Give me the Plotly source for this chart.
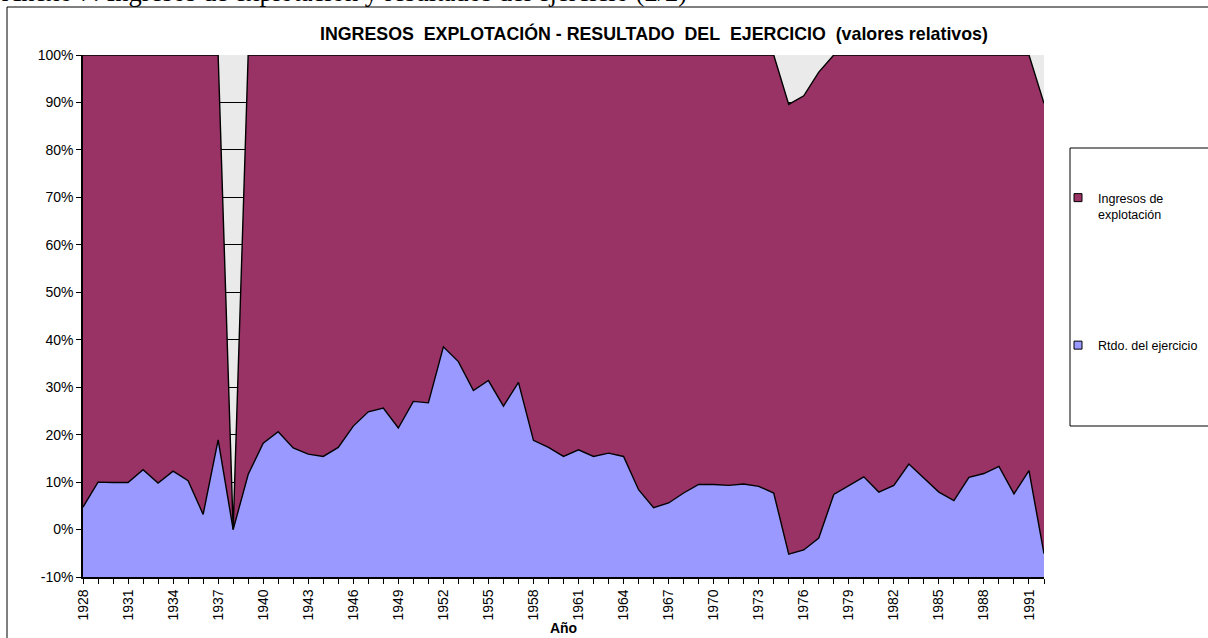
import plotly.graph_objects as go

years = list(range(1928, 1993))
rtdo = [4.7, 10.0, 9.9, 9.9, 12.6, 9.8, 12.3, 10.3, 3.2, 18.9,
        0.0, 11.6, 18.2, 20.6, 17.2, 15.9, 15.4, 17.3, 21.8, 24.8,
        25.6, 21.4, 27.0, 26.7, 38.5, 35.4, 29.3, 31.4, 26.0, 31.0,
        18.8, 17.3, 15.4, 16.8, 15.4, 16.1, 15.4, 8.4, 4.6, 5.6,
        7.7, 9.5, 9.5, 9.3, 9.6, 9.1, 7.7, -5.2, -4.3, -1.8,
        7.4, 9.3, 11.1, 7.9, 9.3, 13.8, 10.9, 7.9, 6.1, 11.0,
        11.8, 13.3, 7.5, 12.4, -5.1]
ingresos = [95.3, 90.0, 90.1, 90.1, 87.4, 90.2, 87.7, 89.7, 96.8, 81.1,
            0.0, 88.4, 81.8, 79.4, 82.8, 84.1, 84.6, 82.7, 78.2, 75.2,
            74.4, 78.6, 73.0, 73.3, 61.5, 64.6, 70.7, 68.6, 74.0, 69.0,
            81.2, 82.7, 84.6, 83.2, 84.6, 83.9, 84.6, 91.6, 95.4, 94.4,
            92.3, 90.5, 90.5, 90.7, 90.4, 90.9, 92.3, 94.8, 95.7, 98.2,
            92.6, 90.7, 88.9, 92.1, 90.7, 86.2, 89.1, 92.1, 93.9, 89.0,
            88.2, 86.7, 92.5, 87.6, 94.9]
tick_years = list(range(1928, 1993, 3))
y_ticks = list(range(-10, 101, 10))

Y_MIN, Y_MAX = -10, 100
top = [r + i for r, i in zip(rtdo, ingresos)]

BLUE, MAROON = "#9999FF", "#993366"

W, H = 1208, 638
L, R, T, B = 83, W - 1044, 55, H - 577
PW, PH = W - L - R, H - T - B


def px(x):
    return (x - L) / PW


def py(y):
    return (H - B - y) / PH


FONT = "Arial, Liberation Sans, sans-serif"

fig = go.Figure()
fig.add_trace(go.Scatter(x=years, y=[Y_MIN] * len(years), mode="lines",
                         line=dict(width=0), showlegend=False, hoverinfo="skip"))
fig.add_trace(go.Scatter(x=years, y=rtdo, mode="lines", fill="tonexty",
                         fillcolor=BLUE, line=dict(color="black", width=1.4),
                         name="Rtdo. del ejercicio", showlegend=False))
fig.add_trace(go.Scatter(x=years, y=top, mode="lines", fill="tonexty",
                         fillcolor=MAROON, line=dict(color="black", width=1.4),
                         name="Ingresos de explotación", showlegend=False))
# legend entries (square keys as in the original)
fig.add_trace(go.Scatter(x=[None], y=[None], mode="markers", name="Ingresos de<br>explotación",
                         marker=dict(symbol="square", size=8, color=MAROON, line=dict(color="black", width=1)),
                         legendgroup="a", legendrank=1))
fig.add_trace(go.Scatter(x=[None], y=[None], mode="markers", name="Rtdo. del ejercicio",
                         marker=dict(symbol="square", size=8, color=BLUE, line=dict(color="black", width=1)),
                         legendgroup="b", legendrank=2))

nb = "\u00a0"
title = f"<b>INGRESOS{nb}{nb}EXPLOTACIÓN{nb}-{nb}RESULTADO{nb}{nb}DEL{nb}{nb}EJERCICIO{nb}{nb}(valores{nb}relativos)</b>"

fig.update_layout(
    width=W, height=H,
    margin=dict(l=L, r=R, t=T, b=B, autoexpand=False),
    paper_bgcolor="white", plot_bgcolor="#EAEAEA",
    font=dict(family=FONT, size=14, color="black"),
    showlegend=True,
    legend=dict(x=px(1058), y=py(183), xanchor="left", yanchor="top",
                traceorder="grouped", tracegroupgap=112, valign="top",
                bgcolor="rgba(0,0,0,0)", borderwidth=0,
                font=dict(family=FONT, size=12.5), itemwidth=30),
    annotations=[
        dict(text=title, x=px(654), y=py(33), xref="paper", yref="paper",
             xanchor="center", yanchor="middle", showarrow=False,
             font=dict(family=FONT, size=17.8, color="black")),
        dict(text="Anexo 7: Ingresos de explotación y resultados del ejercicio (2/2)",
             x=px(0), y=py(9), xref="paper", yref="paper", xanchor="left", yanchor="bottom",
             showarrow=False, font=dict(family="Liberation Serif, Times New Roman, serif", size=26.5)),
    ],
    shapes=[
        dict(type="rect", xref="paper", yref="paper", x0=px(7), x1=px(1220), y0=py(650), y1=py(7),
             line=dict(color="black", width=1), fillcolor="rgba(0,0,0,0)", layer="below"),
        dict(type="rect", xref="paper", yref="paper", x0=px(1070), x1=px(1220), y0=py(426), y1=py(148),
             line=dict(color="black", width=1), fillcolor="rgba(0,0,0,0)"),
    ],
)
fig.update_xaxes(range=[years[0], years[-1]], tickmode="array", tickvals=tick_years,
                 ticktext=[str(y) for y in tick_years], tickangle=-90,
                 ticks="outside", ticklen=5, tickcolor="black", tickwidth=1,
                 minor=dict(dtick=1, tick0=years[0], ticks="outside", ticklen=5, tickcolor="black", showgrid=False),
                 showline=True, linecolor="black", linewidth=1.5, showgrid=False, zeroline=False,
                 title=dict(text="<b>Año</b>", standoff=4, font=dict(family=FONT, size=14)))
fig.update_yaxes(range=[Y_MIN, Y_MAX], tickmode="array", tickvals=y_ticks,
                 ticktext=[f"{v}%" for v in y_ticks],
                 ticks="outside", ticklen=5, tickcolor="black",
                 showline=True, linecolor="black", linewidth=1.5,
                 showgrid=True, gridcolor="black", gridwidth=1, zeroline=False)

fig.write_html("out.html", config={"displayModeBar": False},
               post_script="document.body.style.margin='0';")
